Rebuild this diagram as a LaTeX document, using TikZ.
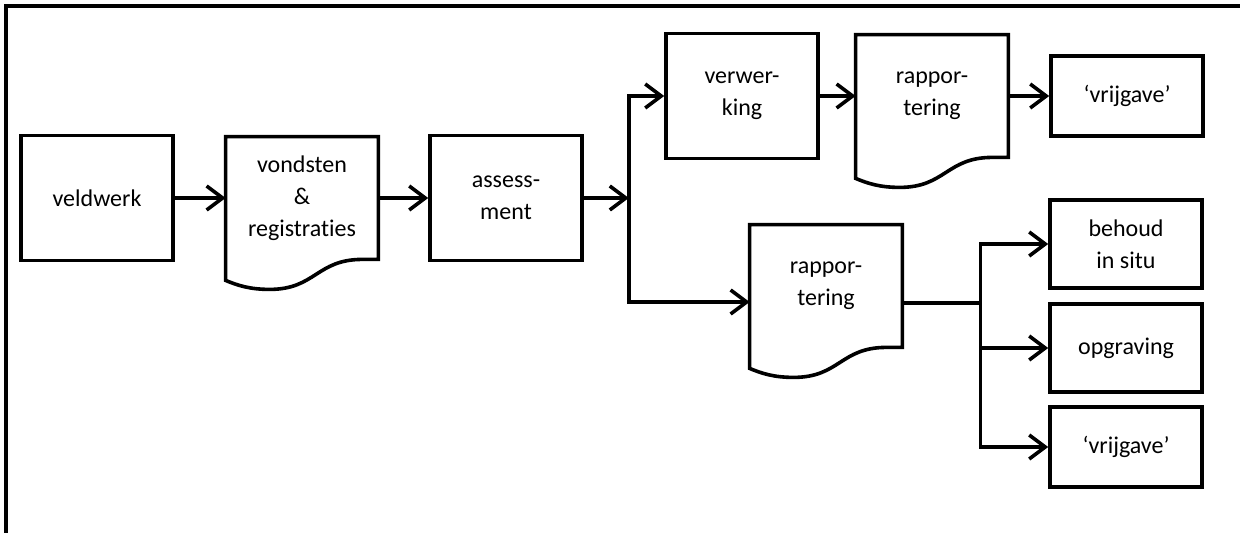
\documentclass[tikz,border=0pt]{standalone}
\usepackage{fontspec}
\setmainfont{Carlito}[RawFeature=-liga]
\usetikzlibrary{arrows.meta, positioning, calc}

% outline of a document symbol round a (borderless) node
\newcommand{\docframe}[1]{%
  \draw[thickline] (#1.south east) -- ++(-8pt,0)
    .. controls +(-23pt,0) and +(23pt,0) .. ($(#1.south west)+(22pt,-15pt)$)
    .. controls +(-10pt,0) and +(6pt,-2.5pt) .. ($(#1.south west)+(0,-10.5pt)$)
    -- (#1.north west) -- (#1.north east) -- cycle;}

\begin{document}
\begin{tikzpicture}[x=0.5pt,y=-0.5pt,on grid,>={Straight Barb[length=8pt,width=12pt]},
        every node/.style={font=\fontsize{12}{16}\selectfont, align=center, inner sep=0pt},
        thickline/.style={line width=1.8pt},
        box/.style={thickline, draw, minimum width=76pt, minimum height=62.5pt},
        smallbox/.style={box, minimum height=44pt},
        doc/.style={minimum width=76pt, minimum height=61pt}]
      \useasboundingbox (0,0) rectangle (1240,533);
      \draw[thickline] (6,533) -- (6,6) -- (1240,6);

      \node[box]  (veldwerk)                        at (97,198) {veldwerk};
      \node[doc]  (vondsten)   [right=102.5pt of veldwerk]      {vondsten\\\&\\registraties};
      \node[box]  (assessment) [right=102pt of vondsten]        {assess-\\ment};
      \node[box]  (verwerking) [above right=51pt and 118pt of assessment] {verwer-\\king};
      \node[doc]  (rappA)      [right=95pt of verwerking]       {rappor-\\tering};
      \node[box, minimum height=40pt] (vrijgaveA) [right=97.5pt of rappA] {‘vrijgave’};
      \node[doc]  (rappB)      [below right=44pt and 160pt of assessment] {rappor-\\tering};
      \node[smallbox] (behoud) [above right=21pt and 150pt of rappB] {behoud\\in situ};
      \node[smallbox] (opgraving) [below=52pt of behoud]        {opgraving};
      \node[box, minimum height=40pt] (vrijgaveB) [below=49.5pt of opgraving] {‘vrijgave’};
      \docframe{vondsten}
      \docframe{rappA}
      \docframe{rappB}

      \coordinate (split)  at ([xshift=22.5pt]assessment.east);
      \coordinate (rappBin)  at ([yshift=-8pt]rappB.west);
      \coordinate (rappBout) at ([yshift=-8.5pt]rappB.east);
      \coordinate (split2) at ([xshift=39pt]rappBout);

      \draw[thickline,->] (veldwerk) -- (vondsten);
      \draw[thickline,->] (vondsten) -- (assessment);
      \draw[thickline,->] (assessment) -- (split);
      \draw[thickline,->] (split) |- (verwerking);
      \draw[thickline,->] (split) |- (rappBin);
      \draw[thickline,->] (verwerking) -- (rappA);
      \draw[thickline,->] (rappA) -- (vrijgaveA);
      \draw[thickline] (rappBout) -- (split2);
      \draw[thickline,->] (split2) |- (behoud);
      \draw[thickline,->] (split2 |- opgraving) -- (opgraving);
      \draw[thickline,->] (split2) |- (vrijgaveB);
\end{tikzpicture}
\end{document}
